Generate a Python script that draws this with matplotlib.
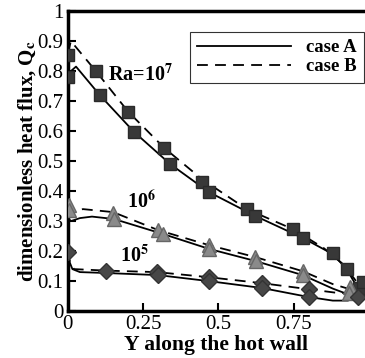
import matplotlib.pyplot as plt
from matplotlib.lines import Line2D

# Ra = 1e7 curves
x7_a = [0.0, 0.01, 0.027, 0.106, 0.22, 0.34, 0.468, 0.623, 0.782, 0.88, 0.926, 0.955, 0.975, 0.99]
y7_a = [0.78, 0.80, 0.815, 0.72, 0.597, 0.49, 0.397, 0.317, 0.243, 0.19, 0.14, 0.09, 0.065, 0.06]
x7_b = [0.0, 0.01, 0.093, 0.20, 0.32, 0.445, 0.594, 0.748, 0.85, 0.91, 0.95, 0.975, 0.99]
y7_b = [0.86, 0.90, 0.80, 0.665, 0.544, 0.44, 0.34, 0.273, 0.21, 0.16, 0.11, 0.075, 0.07]
# Ra = 1e6 curves
x6_a = [0.0, 0.01, 0.04, 0.08, 0.153, 0.316, 0.47, 0.623, 0.78, 0.88, 0.92, 0.95, 0.975, 0.99]
y6_a = [0.31, 0.30, 0.31, 0.315, 0.307, 0.257, 0.207, 0.167, 0.12, 0.075, 0.06, 0.06, 0.075, 0.08]
x6_b = [0.0, 0.01, 0.05, 0.15, 0.30, 0.468, 0.623, 0.78, 0.88, 0.93, 0.96, 0.99]
y6_b = [0.35, 0.33, 0.34, 0.33, 0.27, 0.22, 0.18, 0.133, 0.09, 0.075, 0.07, 0.08]
# Ra = 1e5 curves
x5_a = [0.0, 0.005, 0.015, 0.04, 0.126, 0.30, 0.468, 0.645, 0.80, 0.88, 0.93, 0.96, 0.99]
y5_a = [0.2, 0.165, 0.14, 0.13, 0.127, 0.12, 0.10, 0.077, 0.047, 0.035, 0.035, 0.045, 0.06]
x5_b = [0.0, 0.005, 0.02, 0.126, 0.295, 0.468, 0.645, 0.80, 0.90, 0.96, 0.99]
y5_b = [0.2, 0.17, 0.14, 0.135, 0.13, 0.113, 0.093, 0.073, 0.06, 0.06, 0.07]

# symbols
sq_x = [0.0, 0.0, 0.093, 0.106, 0.20, 0.22, 0.32, 0.34, 0.445, 0.468, 0.594, 0.623, 0.748, 0.782, 0.881, 0.926, 0.967, 0.98]
sq_y = [0.853, 0.78, 0.80, 0.72, 0.665, 0.597, 0.544, 0.49, 0.43, 0.397, 0.34, 0.317, 0.273, 0.243, 0.193, 0.14, 0.077, 0.097]
tr_x = [0.003, 0.003, 0.15, 0.153, 0.30, 0.316, 0.468, 0.47, 0.623, 0.625, 0.78, 0.78, 0.937, 0.935]
tr_y = [0.353, 0.337, 0.327, 0.307, 0.27, 0.257, 0.22, 0.207, 0.18, 0.167, 0.133, 0.12, 0.08, 0.06]
di_x = [0.0, 0.126, 0.295, 0.30, 0.468, 0.468, 0.645, 0.645, 0.80, 0.80, 0.963]
di_y = [0.197, 0.133, 0.13, 0.12, 0.113, 0.10, 0.093, 0.077, 0.073, 0.047, 0.047]

xticks = [0, 0.25, 0.5, 0.75]
xtick_labels = ['0', '0.25', '0.5', '0.75']
yticks = [0, 0.1, 0.2, 0.3, 0.4, 0.5, 0.6, 0.7, 0.8, 0.9, 1.0]
ytick_labels = ['0', '0.1', '0.2', '0.3', '0.4', '0.5', '0.6', '0.7', '0.8', '0.9', '1']

plt.rcParams['font.family'] = ['Liberation Serif', 'DejaVu Serif']
plt.rcParams['mathtext.fontset'] = 'stix'

fig = plt.figure(figsize=(3.65, 3.58), dpi=100)
ax = fig.add_axes([0.186, 0.131, 0.814, 0.838])

for xs, ys in [(x7_a, y7_a), (x6_a, y6_a), (x5_a, y5_a)]:
    ax.plot(xs, ys, color='black', lw=1.3, zorder=3)
for xs, ys in [(x7_b, y7_b), (x6_b, y6_b), (x5_b, y5_b)]:
    ax.plot(xs, ys, color='black', lw=1.3, ls=(0, (6, 4)), zorder=3)

ax.plot(sq_x, sq_y, ls='none', marker='s', ms=8, color='#383838', mec='#2a2a2a', zorder=4)
ax.plot(tr_x, tr_y, ls='none', marker='^', ms=10, color='#8a8a8a', mec='#666666', zorder=4)
ax.plot(di_x, di_y, ls='none', marker='D', ms=8, color='#474747', mec='#333333', zorder=4)

ax.text(0.243, 0.787, r'Ra=10$^{\mathbf{7}}$', fontsize=14.5, fontweight='bold', ha='center', va='center')
ax.text(0.246, 0.36, r'10$^{\mathbf{6}}$', fontsize=14.5, fontweight='bold', ha='center', va='center')
ax.text(0.22, 0.183, r'10$^{\mathbf{5}}$', fontsize=14.5, fontweight='bold', ha='center', va='center')

ax.set_xlim(0, 0.987)
ax.set_ylim(0, 1)
ax.set_xticks(xticks)
ax.set_xticklabels(xtick_labels)
ax.set_yticks(yticks)
ax.set_yticklabels(ytick_labels)
ax.tick_params(direction='in', labelsize=15, width=1.5, length=6)
ax.tick_params(axis='y', pad=3)
ax.tick_params(axis='x', pad=3)
for s in ['left', 'bottom', 'top']:
    ax.spines[s].set_linewidth(2.5)
ax.spines['right'].set_visible(False)

ax.set_xlabel('Y along the hot wall', fontsize=15.5, fontweight='bold', labelpad=0.5)
ax.set_ylabel(r'dimensionless heat flux, Q$_{\mathbf{c}}$', fontsize=15, fontweight='bold', labelpad=0)

handles = [Line2D([], [], color='black', lw=1.3),
           Line2D([], [], color='black', lw=1.3, ls=(0, (6, 4)))]
leg = ax.legend(handles, ['case A', 'case B'], loc='upper left', bbox_to_anchor=(0.379, 0.963),
                prop={'weight': 'bold', 'size': 13.5}, handlelength=5.0, frameon=True, fancybox=False,
                borderpad=0.4, labelspacing=0.1, handletextpad=0.8)
leg.get_frame().set_edgecolor('black')
leg.get_frame().set_linewidth(0.8)

plt.savefig('out.png', dpi=100)
